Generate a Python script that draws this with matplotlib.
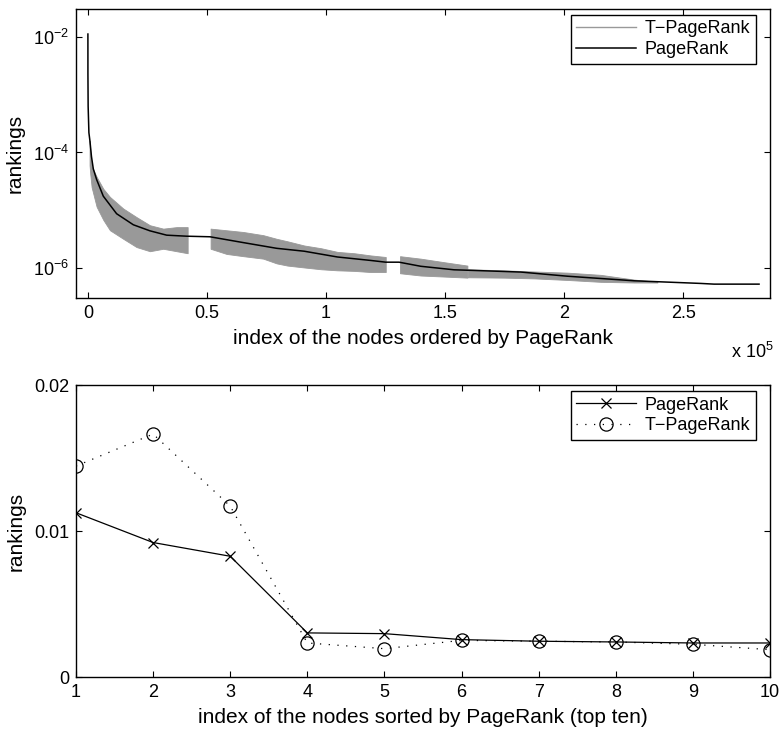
import numpy as np
import matplotlib
matplotlib.use("Agg")
import matplotlib.pyplot as plt
from matplotlib.ticker import FixedLocator, NullLocator

plt.rcParams['font.family'] = ['Liberation Sans', 'DejaVu Sans']
plt.rcParams['mathtext.fontset'] = 'custom'
plt.rcParams['mathtext.rm'] = 'Liberation Sans'
plt.rcParams['mathtext.it'] = 'Liberation Sans'

# ---------------- top panel data ----------------
pr_x = [1, 10, 100, 420, 840, 1500, 2270, 3660, 6470, 12060, 19080, 26050, 33070,
        41470, 51260, 65290, 79290, 90880, 104800, 118800, 125100, 130700,
        139800, 153800, 167800, 181800, 201400, 229400, 257400, 263000, 281900]
pr_y = [1.125e-2, 2.3e-3, 6.3e-4, 2.2e-4, 1.6e-4, 8.5e-5, 5.2e-5, 3.4e-5, 1.75e-5,
        8.7e-6, 5.6e-6, 4.4e-6, 3.7e-6, 3.55e-6, 3.47e-6, 2.75e-6, 2.19e-6,
        1.95e-6, 1.55e-6, 1.35e-6, 1.26e-6, 1.26e-6, 1.07e-6, 9.3e-7, 8.9e-7,
        8.5e-7, 7.2e-7, 6.0e-7, 5.4e-7, 5.25e-7, 5.25e-7]

# T-PageRank: noisy band (upper / lower envelope) read per segment
tpr_seg1_x = [700, 1000, 1570, 3660, 6470, 9260, 14850, 20440, 26050, 31650, 37250, 41900]
tpr_seg1_hi = [1.6e-4, 1.1e-4, 5.8e-5, 3.8e-5, 2.35e-5, 1.7e-5, 1.07e-5, 7.6e-6, 5.5e-6, 4.8e-6, 5.1e-6, 5.1e-6]
tpr_seg1_lo = [6.0e-5, 4.2e-5, 2.5e-5, 1.15e-5, 6.8e-6, 4.5e-6, 3.2e-6, 2.3e-6, 1.95e-6, 2.15e-6, 1.95e-6, 1.8e-6]

tpr_seg2_x = [51540, 58250, 65290, 73660, 79290, 83800, 90880, 97900, 104800, 111900, 118800, 125100]
tpr_seg2_hi = [4.8e-6, 4.5e-6, 4.2e-6, 3.7e-6, 3.2e-6, 2.9e-6, 2.45e-6, 2.2e-6, 1.9e-6, 1.8e-6, 1.65e-6, 1.55e-6]
tpr_seg2_lo = [2.15e-6, 1.75e-6, 1.6e-6, 1.45e-6, 1.2e-6, 1.1e-6, 1.02e-6, 9.5e-7, 9.1e-7, 8.9e-7, 8.5e-7, 8.5e-7]

tpr_seg3_x = [131100, 139800, 149600, 159400]
tpr_seg3_hi = [1.6e-6, 1.45e-6, 1.26e-6, 1.1e-6]
tpr_seg3_lo = [8.1e-7, 7.4e-7, 7.1e-7, 6.8e-7]

tpr_seg4_x = [159600, 174800, 187400, 201400, 215400, 229400, 239200]
tpr_seg4_hi = [9.5e-7, 9.1e-7, 8.7e-7, 8.3e-7, 7.6e-7, 6.3e-7, 5.75e-7]
tpr_seg4_lo = [6.9e-7, 6.8e-7, 6.6e-7, 6.2e-7, 5.75e-7, 5.6e-7, 5.6e-7]

top_xticks = [0, 50000, 100000, 150000, 200000, 250000]
top_xticklabels = ['0', '0.5', '1', '1.5', '2', '2.5']
top_yticks = [1e-6, 1e-4, 1e-2]
top_yticklabels = [r'$10^{-6}$', r'$10^{-4}$', r'$10^{-2}$']

# ---------------- bottom panel data ----------------
top10_idx = [1, 2, 3, 4, 5, 6, 7, 8, 9, 10]
top10_pr = [0.01125, 0.00921, 0.00827, 0.00302, 0.00297, 0.00256, 0.00245, 0.00240, 0.00233, 0.00233]
top10_tpr = [0.01445, 0.01664, 0.0117, 0.00233, 0.00194, 0.00251, 0.00245, 0.00240, 0.00224, 0.00187]

GRAY = '#999999'
FS = 15
LFS = 13
TFS = 13

fig = plt.figure(figsize=(7.82, 7.30), dpi=100)
W, H = 782, 730

def rect(l, t, r, b):
    return [l / W, 1 - b / H, (r - l) / W, (b - t) / H]

ax1 = fig.add_axes(rect(76, 9, 770, 298))
ax2 = fig.add_axes(rect(76, 385, 770, 677))

# ---- top ----
for sx, shi, slo in [(tpr_seg1_x, tpr_seg1_hi, tpr_seg1_lo),
                     (tpr_seg2_x, tpr_seg2_hi, tpr_seg2_lo),
                     (tpr_seg3_x, tpr_seg3_hi, tpr_seg3_lo),
                     (tpr_seg4_x, tpr_seg4_hi, tpr_seg4_lo)]:
    ax1.fill_between(sx, slo, shi, color=GRAY, linewidth=0.6, edgecolor=GRAY)
ax1.plot([], [], color=GRAY, lw=1.0, label='T\u2212PageRank')
ax1.plot(pr_x, pr_y, color='black', lw=1.1, label='PageRank')
ax1.set_yscale('log')
ax1.set_xlim(-5000, 286500)
ax1.set_ylim(10 ** -6.52, 10 ** -1.515)
ax1.xaxis.set_major_locator(FixedLocator(top_xticks))
ax1.set_xticklabels(top_xticklabels)
ax1.yaxis.set_major_locator(FixedLocator(top_yticks))
ax1.yaxis.set_minor_locator(NullLocator())
ax1.set_yticklabels(top_yticklabels)
ax1.set_xlabel('index of the nodes ordered by PageRank', fontsize=FS, labelpad=5)
ax1.set_ylabel('rankings', fontsize=FS, labelpad=6)
fig.text(752 / W, 1 - 352 / H, r'x $10^{5}$', fontsize=TFS, ha='center', va='center')
leg1 = ax1.legend(loc='upper right', bbox_to_anchor=(0.9794, 0.979), borderaxespad=0,
                  fontsize=LFS, handlelength=3.3, handletextpad=0.5, fancybox=False,
                  edgecolor='black', framealpha=1, borderpad=0.3, labelspacing=0.2)
leg1.get_frame().set_linewidth(1.0)

# ---- bottom ----
ax2.plot(top10_idx, top10_pr, color='black', lw=0.9, marker='x', markersize=7,
         markeredgewidth=0.9, label='PageRank')
ax2.plot(top10_idx, top10_tpr, color='black', lw=0.9, linestyle=(0, (1, 6)),
         marker='o', markersize=9.5, markerfacecolor='none', markeredgewidth=0.9,
         label='T\u2212PageRank')
ax2.set_xlim(1, 10)
ax2.set_ylim(0, 0.02)
ax2.set_xticks(top10_idx)
ax2.set_yticks([0, 0.01, 0.02])
ax2.set_yticklabels(['0', '0.01', '0.02'])
ax2.set_xlabel('index of the nodes sorted by PageRank (top ten)', fontsize=FS, labelpad=5)
ax2.set_ylabel('rankings', fontsize=FS, labelpad=6)
leg2 = ax2.legend(loc='upper right', bbox_to_anchor=(0.9794, 0.979), borderaxespad=0,
                  fontsize=LFS, handlelength=3.3, handletextpad=0.5, fancybox=False,
                  edgecolor='black', framealpha=1, borderpad=0.3, labelspacing=0.2)
leg2.get_frame().set_linewidth(1.0)

for ax in (ax1, ax2):
    ax.tick_params(which='both', direction='in', top=True, right=True, length=4,
                   width=0.8, labelsize=TFS, pad=5)
    for s in ax.spines.values():
        s.set_linewidth(1.0)

fig.savefig('out.png', dpi=100)
